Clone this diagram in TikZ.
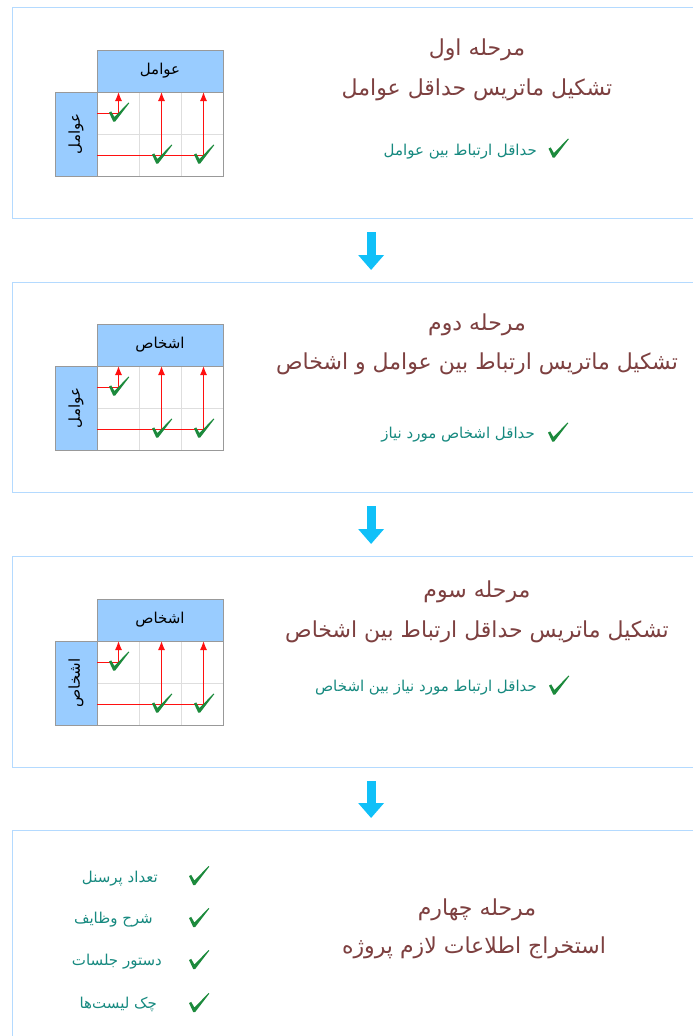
\documentclass[tikz,border=0pt]{standalone}
\usepackage{fontspec}
\usepackage{xcolor}
\usepackage{tikz}
\usetikzlibrary{arrows.meta,positioning}

\newfontfamily\fa[Script=Arabic]{DejaVu Sans}
\TeXXeTstate=1

\definecolor{panelblue}{HTML}{B4DAFF}
\definecolor{headblue}{HTML}{99CCFF}
\definecolor{titlebrown}{HTML}{7D4040}
\definecolor{itemteal}{HTML}{16897F}
\definecolor{tickgreen}{HTML}{1C8A3C}
\definecolor{flowcyan}{HTML}{10C0F8}
\definecolor{linkred}{HTML}{FF1010}

% one small matrix: #1 prefix, #2 y offset, #3 top label, #4 side label
\newcommand{\stagegrid}[4]{%
\begin{scope}[shift={(0,#2)}]
\node[headbox, minimum width=126, minimum height=42] (#1top) at (160,71) {\beginR #3\endR};
\node[headbox, minimum width=84, minimum height=42, rotate=90] (#1side) at (76,134) {\beginR #4\endR};
\draw[cellline] (139,92) -- (139,176);
\draw[cellline] (181,92) -- (181,176);
\draw[cellline] (97,134) -- (223,134);
\draw[cellframe] (97,92) rectangle (223,176);
\coordinate (#1in1) at (97,113.5);
\coordinate (#1in2) at (97,155.5);
\coordinate (#1out1) at (118.5,92);
\coordinate (#1out2) at (161.5,92);
\coordinate (#1out3) at (203.5,92);
\draw[link] (#1in1) -| (#1out1);
\draw[link] (#1in2) -| (#1out2);
\draw[link] (#1in2) -| (#1out3);
\pic (#1t1) at (119,112) {checkmark};
\pic (#1t2) at (162,154) {checkmark};
\pic (#1t3) at (204,154) {checkmark};
\end{scope}}

\begin{document}
\begin{tikzpicture}[
    x=1pt, y=-1pt,
    panel/.style={
        draw=panelblue,
        line width=1.2pt,
        anchor=north west,
        minimum width=700,
        inner sep=0pt
    },
    headbox/.style={
        draw=black!40,
        line width=0.9pt,
        fill=headblue,
        inner sep=0pt,
        font=\fa\fontsize{15}{17}\selectfont
    },
    cellline/.style={draw=black!13, line width=0.9pt},
    cellframe/.style={draw=black!40, line width=0.9pt},
    link/.style={draw=linkred, line width=1.2pt, -{Latex[length=9pt,width=7pt]}},
    checkmark/.pic={
        \fill[tickgreen] (-10,0.5) -- (-7.8,-0.6) -- (-4.6,5) -- (9.6,-9.5)
            -- (10.3,-8.9) -- (-3.8,9.5) -- (-5.8,9.5) -- cycle;
    },
    stagetitle/.style={text=titlebrown, font=\fa\fontsize{22}{26}\selectfont, inner sep=0pt},
    item/.style={text=itemteal, font=\fa\fontsize{15}{18}\selectfont, inner sep=0pt, anchor=east},
    flow/.style={draw=flowcyan, line width=9pt, -{Triangle[length=15pt,width=25pt]}}
]
\useasboundingbox (0,0) rectangle (693,1036);
\clip (0,0) rectangle (693,1036);

% panels
\node[panel, minimum height=211] (stage1) at (12,7) {};
\node[panel, minimum height=210] (stage2) at (12,282) {};
\node[panel, minimum height=211] (stage3) at (12,556) {};
\node[panel, minimum height=230] (stage4) at (12,830) {};

% stage one
\stagegrid{m1}{0}{عوامل}{عوامل}
\node[stagetitle] (name1) at (477,50) {\beginR مرحله اول\endR};
\node[stagetitle] (goal1) at (477,90) {\beginR تشکیل ماتریس حداقل عوامل\endR};
\pic (tick1) at (558.5,148) {checkmark};
\node[item] (item1) at (537,152) {\beginR حداقل ارتباط بین عوامل\endR};

% stage two
\stagegrid{m2}{274}{اشخاص}{عوامل}
\node[stagetitle] (name2) at (477,325) {\beginR مرحله دوم\endR};
\node[stagetitle] (goal2) at (477,364) {\beginR تشکیل ماتریس ارتباط بین عوامل و اشخاص\endR};
\pic (tick2) at (558,432) {checkmark};
\node[item] (item2) at (535,435) {\beginR حداقل اشخاص مورد نیاز\endR};

% stage three
\stagegrid{m3}{549}{اشخاص}{اشخاص}
\node[stagetitle] (name3) at (477,592) {\beginR مرحله سوم\endR};
\node[stagetitle] (goal3) at (477,632) {\beginR تشکیل ماتریس حداقل ارتباط بین اشخاص\endR};
\pic (tick3) at (559,685) {checkmark};
\node[item] (item3) at (537,688) {\beginR حداقل ارتباط مورد نیاز بین اشخاص\endR};

% stage four
\node[stagetitle] (name4) at (477,910) {\beginR مرحله چهارم\endR};
\node[stagetitle] (goal4) at (474,948) {\beginR استخراج اطلاعات لازم  پروژه\endR};
\pic (tick4a) at (199,875.5) {checkmark};
\pic (tick4b) at (199,917.5) {checkmark};
\pic (tick4c) at (199,959.5) {checkmark};
\pic (tick4d) at (199,1002.5) {checkmark};
\node[item] (item4a) at (158,879) {\beginR تعداد پرسنل\endR};
\node[item] (item4b) at (153,920) {\beginR شرح وظایف\endR};
\node[item] (item4c) at (162,962) {\beginR دستور جلسات\endR};
\node[item] (item4d) at (157,1004) {\beginR چک لیست‌ها\endR};

% flow between stages
\draw[flow] ([xshift=8.5pt,yshift=-13pt]stage1.south) -- ([xshift=8.5pt,yshift=12pt]stage2.north);
\draw[flow] ([xshift=8.5pt,yshift=-13pt]stage2.south) -- ([xshift=8.5pt,yshift=12pt]stage3.north);
\draw[flow] ([xshift=8.5pt,yshift=-13pt]stage3.south) -- ([xshift=8.5pt,yshift=12pt]stage4.north);

\end{tikzpicture}
\end{document}
